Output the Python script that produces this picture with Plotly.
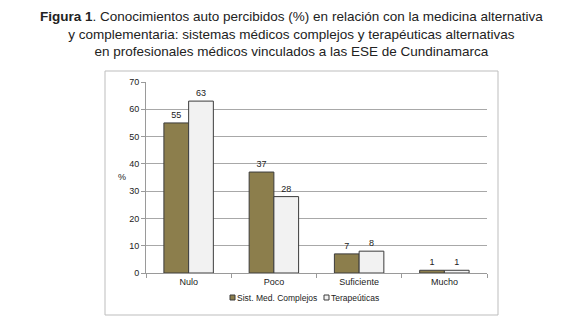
import plotly.graph_objects as go

categories = ["Nulo", "Poco", "Suficiente", "Mucho"]
sist_med = [55, 37, 7, 1]
terapeuticas = [63, 28, 8, 1]
series_names = ["Sist. Med. Complejos", "Terapeúticas"]
y_ticks = [0, 10, 20, 30, 40, 50, 60, 70]

# the page places the figure 8px in from the top-left corner
OFF = 8
W, H = 580 - OFF, 323 - OFF
# plot area in page pixel coordinates
PL, PR, PT, PB = 146, 487, 82, 273
L, R, T, B = PL - OFF, W - (PR - OFF), PT - OFF, H - (PB - OFF)
pw, ph = W - L - R, H - T - B

def px_x(x):
    return (x - OFF - L) / pw

def px_y(y):
    return (H - B - (y - OFF)) / ph

c1, c2 = "#8C7E4C", "#F2F2F2"
edge = "#3C3C3C"
font = "Liberation Sans, Arial, sans-serif"

fig = go.Figure()
fig.add_bar(x=categories, y=sist_med, name=series_names[0], marker=dict(color=c1, line=dict(color=edge, width=1)),
            text=sist_med, textposition="outside", textfont=dict(size=9, color="#222"), cliponaxis=False)
fig.add_bar(x=categories, y=terapeuticas, name=series_names[1], marker=dict(color=c2, line=dict(color=edge, width=1)),
            text=terapeuticas, textposition="outside", textfont=dict(size=9, color="#222"), cliponaxis=False)

shapes = [
    dict(type="rect", xref="paper", yref="paper", x0=px_x(105), x1=px_x(498), y0=px_y(315), y1=px_y(71),
         line=dict(color="#BDBDBD", width=1), layer="below"),
]
annotations = [
    dict(text="<b>Figura 1</b>. Conocimientos auto percibidos (%) en relación con la medicina alternativa<br>"
              "y complementaria: sistemas médicos complejos y terapéuticas alternativas<br>"
              "en profesionales médicos vinculados a las ESE de Cundinamarca",
         xref="paper", yref="paper", x=px_x(291), y=px_y(6.5), xanchor="center", yanchor="top",
         showarrow=False, align="center", font=dict(size=13.5, color="#222", family=font)),
    dict(text="%", xref="paper", yref="paper", x=px_x(122), y=px_y(177), xanchor="center", yanchor="middle",
         showarrow=False, font=dict(size=9, color="#222", family=font)),
]
# compact legend
leg = [(230, c1, series_names[0]), (324, c2, series_names[1])]
for xpos, col, name in leg:
    shapes.append(dict(type="rect", xref="paper", yref="paper", x0=px_x(xpos), x1=px_x(xpos + 5),
                       y0=px_y(300), y1=px_y(295), fillcolor=col, line=dict(color=edge, width=1)))
    annotations.append(dict(text=name, xref="paper", yref="paper", x=px_x(xpos + 5), y=px_y(297.5),
                            xanchor="left", yanchor="middle", showarrow=False,
                            font=dict(size=8.5, color="#222", family=font)))

fig.update_layout(
    width=W, height=H, margin=dict(l=L, r=R, t=T, b=B),
    paper_bgcolor="white", plot_bgcolor="white",
    barmode="group", bargap=0.42, bargroupgap=0,
    showlegend=False, font=dict(family=font, size=9, color="#222"),
    shapes=shapes, annotations=annotations,
    xaxis=dict(showline=True, linecolor="#9A9A9A", linewidth=1, ticks="outside", tickson="boundaries",
               ticklen=4, tickcolor="#9A9A9A", tickfont=dict(size=9, color="#222"), showgrid=False),
    yaxis=dict(range=[0, 70], tickvals=y_ticks, showline=True, linecolor="#9A9A9A", linewidth=1,
               ticks="outside", ticklen=4, tickcolor="#9A9A9A", showgrid=True, gridcolor="#A8A8A8",
               gridwidth=1, tickfont=dict(size=9, color="#222"), zeroline=False),
)
fig.write_html("out.html")
